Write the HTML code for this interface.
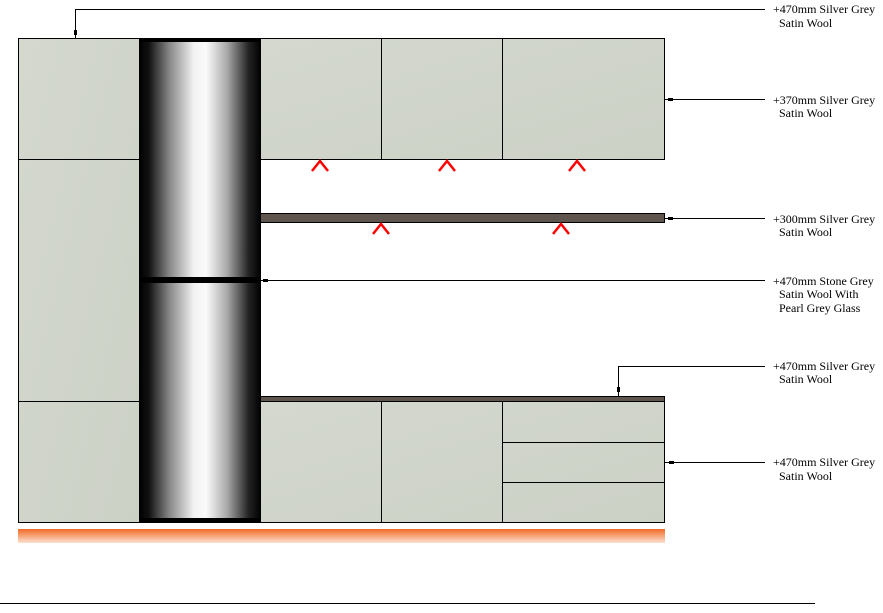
<!DOCTYPE html>
<html><head><meta charset="utf-8"><style>
html,body{margin:0;padding:0;background:#fff;width:883px;height:613px;overflow:hidden}
svg{display:block}
text{font-family:"Liberation Serif",serif;font-size:12px;fill:#000}
</style></head><body>
<svg width="883" height="613" viewBox="0 0 883 613" xmlns="http://www.w3.org/2000/svg">
<defs>
<linearGradient id="col" x1="0" x2="1" y1="0" y2="0">
<stop offset="0" stop-color="#000"/>
<stop offset="0.08" stop-color="#111"/>
<stop offset="0.25" stop-color="#888"/>
<stop offset="0.45" stop-color="#f2f2f2"/>
<stop offset="0.55" stop-color="#fafafa"/>
<stop offset="0.72" stop-color="#aaa"/>
<stop offset="0.9" stop-color="#222"/>
<stop offset="1" stop-color="#000"/>
</linearGradient>
<linearGradient id="cab" x1="0" x2="1" y1="0" y2="1">
<stop offset="0" stop-color="#d4d8cf"/>
<stop offset="1" stop-color="#ccd1c6"/>
</linearGradient>
<linearGradient id="plinth" x1="0" x2="0" y1="0" y2="1">
<stop offset="0" stop-color="#f06a28"/>
<stop offset="0.4" stop-color="#f59a6a"/>
<stop offset="1" stop-color="#fde0d0"/>
</linearGradient>
</defs>
<!-- left tall unit -->
<rect x="18.5" y="38.5" width="121" height="484" fill="url(#cab)" stroke="#000"/>
<line x1="18" y1="159.5" x2="139" y2="159.5" stroke="#000"/>
<line x1="18" y1="401.5" x2="139" y2="401.5" stroke="#000"/>
<!-- column -->
<rect x="139" y="38" width="122" height="485" fill="url(#col)"/>
<rect x="139" y="38" width="122" height="4" fill="#000"/>
<rect x="139" y="518" width="122" height="5" fill="#000"/>
<rect x="141" y="277" width="118" height="6" fill="#000"/>
<!-- wall cabinets -->
<rect x="260.5" y="38.5" width="404" height="121" fill="url(#cab)" stroke="#000"/>
<line x1="381.5" y1="38" x2="381.5" y2="159" stroke="#000"/>
<line x1="502.5" y1="38" x2="502.5" y2="159" stroke="#000"/>
<!-- shelf -->
<rect x="260.5" y="213.5" width="404" height="9" fill="#5e554e" stroke="#000"/>
<!-- base -->
<rect x="260.5" y="396.5" width="404" height="5" fill="#5e554e" stroke="#000"/>
<rect x="260.5" y="401.5" width="404" height="121" fill="url(#cab)" stroke="#000"/>
<line x1="381.5" y1="401" x2="381.5" y2="522" stroke="#000"/>
<line x1="502.5" y1="401" x2="502.5" y2="522" stroke="#000"/>
<line x1="502" y1="442.5" x2="665" y2="442.5" stroke="#000"/>
<line x1="502" y1="482.5" x2="665" y2="482.5" stroke="#000"/>
<!-- plinth -->
<rect x="18" y="529" width="647" height="14" fill="url(#plinth)"/>
<!-- floor line -->
<line x1="0" y1="603.5" x2="815" y2="603.5" stroke="#000"/>
<!-- chevrons -->
<g fill="none" stroke="#f00" stroke-width="2.5" stroke-linejoin="miter">
<polyline points="312,171 320,161 328,171"/>
<polyline points="439,171 447,161 455,171"/>
<polyline points="569,171 577,161 585,171"/>
<polyline points="373,234 381,224 389,234"/>
<polyline points="553,234 561,224 569,234"/>
</g>
<!-- leaders -->
<g stroke="#000" fill="none">
<polyline points="75.5,38 75.5,9.5 765,9.5"/>
<line x1="665" y1="99.5" x2="765" y2="99.5"/>
<line x1="665" y1="218.5" x2="765" y2="218.5"/>
<line x1="261" y1="280.5" x2="765" y2="280.5"/>
<polyline points="618.5,396 618.5,366.5 765,366.5"/>
<line x1="665" y1="462.5" x2="765" y2="462.5"/>
</g>
<g fill="#000">
<rect x="74" y="30" width="3" height="5"/>
<rect x="668" y="98" width="5" height="3"/>
<rect x="668" y="217" width="5" height="3"/>
<rect x="263" y="279" width="5" height="3"/>
<rect x="617" y="387" width="3" height="5"/>
<rect x="669" y="461" width="5" height="3"/>
</g>
<!-- labels -->
<text x="773" y="13">+470mm Silver Grey</text><text x="779" y="27">Satin Wool</text>
<text x="773" y="104">+370mm Silver Grey</text><text x="779" y="117">Satin Wool</text>
<text x="773" y="223">+300mm Silver Grey</text><text x="779" y="236">Satin Wool</text>
<text x="773" y="285">+470mm Stone Grey</text><text x="779" y="298">Satin Wool With</text><text x="779" y="312">Pearl Grey Glass</text>
<text x="773" y="370">+470mm Silver Grey</text><text x="779" y="383">Satin Wool</text>
<text x="773" y="466">+470mm Silver Grey</text><text x="779" y="480">Satin Wool</text>
</svg>
</body></html>
